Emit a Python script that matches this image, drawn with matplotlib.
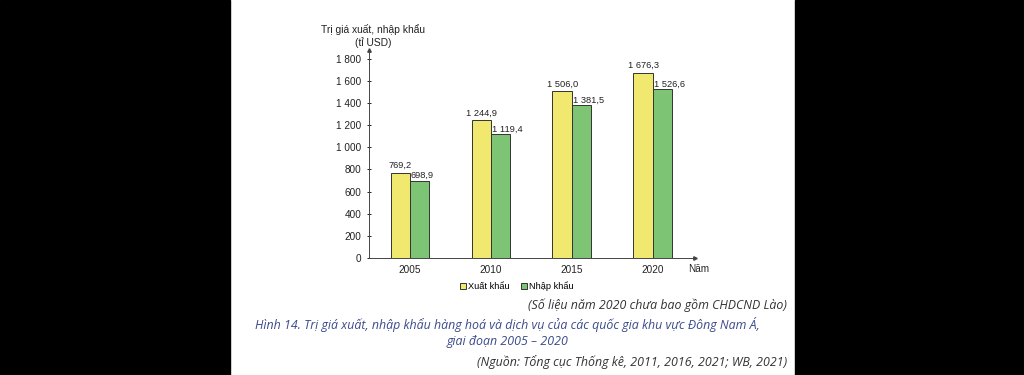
import numpy as np
import matplotlib.pyplot as plt
from matplotlib.patches import Rectangle

plt.rcParams['font.family'] = ['Liberation Sans', 'DejaVu Sans']

years = ['2005', '2010', '2015', '2020']
xuat_khau = [769.2, 1244.9, 1506.0, 1676.3]
nhap_khau = [698.9, 1119.4, 1381.5, 1526.6]
yticks = [0, 200, 400, 600, 800, 1000, 1200, 1400, 1600, 1800]

c_xk = '#f1e96f'
c_nk = '#7dc474'

def vn(v, dec=1):
    s = f'{v:,.{dec}f}'
    return s.replace(',', ' ').replace('.', ',')

fig = plt.figure(figsize=(10.24, 3.75), dpi=100)
# black side bands
fig.patches.append(Rectangle((0, 0), 230/1024, 1, transform=fig.transFigure, color='black', zorder=-1))
fig.patches.append(Rectangle((795/1024, 0), 1 - 795/1024, 1, transform=fig.transFigure, color='black', zorder=-1))

ax = fig.add_axes([369/1024, (375-258)/375, (695-369)/1024, 208/375])
x = np.arange(len(years))
w = 0.24
ax.bar(x - w/2, xuat_khau, w, color=c_xk, edgecolor='#333333', linewidth=0.7, label='Xuất khẩu')
ax.bar(x + w/2, nhap_khau, w, color=c_nk, edgecolor='#333333', linewidth=0.7, label='Nhập khẩu')

for i in range(len(years)):
    ax.text(x[i] - w/2, xuat_khau[i] + 25, vn(xuat_khau[i]), ha='center', va='bottom', fontsize=6.7, color='#222222')
    ax.text(x[i] + 0.01, nhap_khau[i] + 5, vn(nhap_khau[i]), ha='left', va='bottom', fontsize=6.7, color='#222222')

ax.set_xlim(-0.506, 3.52)
ax.set_ylim(0, 1880)
ax.set_xticks(x)
ax.set_xticklabels(years)
ax.set_yticks(yticks)
ax.set_yticklabels([vn(v, 0) for v in yticks])
ax.tick_params(axis='y', length=3, direction='inout', width=0.7, labelsize=7.2, pad=4, colors='#222222')
ax.tick_params(axis='x', length=0, labelsize=7.2, pad=5, colors='#222222')
for s in ['top', 'right']:
    ax.spines[s].set_visible(False)
ax.spines['left'].set_color('#444444')
ax.spines['bottom'].set_color('#444444')
ax.spines['left'].set_linewidth(0.7)
ax.spines['bottom'].set_linewidth(0.7)
ax.plot(1, 0, '>', color='#444444', markersize=2.5, transform=ax.transAxes, clip_on=False)
ax.plot(0, 1, '^', color='#444444', markersize=2.5, transform=ax.transAxes, clip_on=False)

fig.text(373/1024, 1 - 36/375, 'Trị giá xuất, nhập khẩu\n(tỉ USD)', ha='center', va='center',
         fontsize=7.4, color='#222222', linespacing=1.25)
fig.text(688/1024, 1 - 269/375, 'Năm', ha='left', va='center', fontsize=7.2, color='#222222')

ax.legend(loc='center', bbox_to_anchor=(517/1024, 1 - 286/375), bbox_transform=fig.transFigure,
          ncol=2, frameon=False, fontsize=6.7, handlelength=0.6, handleheight=0.6,
          handletextpad=0.3, columnspacing=1.2)

cap = ['Open Sans', 'DejaVu Sans']
fig.text(787/1024, 1 - 305/375, '(Số liệu năm 2020 chưa bao gồm CHDCND Lào)', ha='right', va='center',
         fontsize=8.9, style='italic', color='#333333', family=cap)
fig.text(507/1024, 1 - 324/375, 'Hình 14. Trị giá xuất, nhập khẩu hàng hoá và dịch vụ của các quốc gia khu vực Đông Nam Á,',
         ha='center', va='center', fontsize=8.9, style='italic', color='#3b4a8c', family=cap)
fig.text(507/1024, 1 - 342/375, 'giai đoạn 2005 – 2020', ha='center', va='center',
         fontsize=8.9, style='italic', color='#3b4a8c', family=cap)
fig.text(787/1024, 1 - 362/375, '(Nguồn: Tổng cục Thống kê, 2011, 2016, 2021; WB, 2021)', ha='right', va='center',
         fontsize=8.9, style='italic', color='#333333', family=cap)

fig.savefig('out.png', dpi=100)
